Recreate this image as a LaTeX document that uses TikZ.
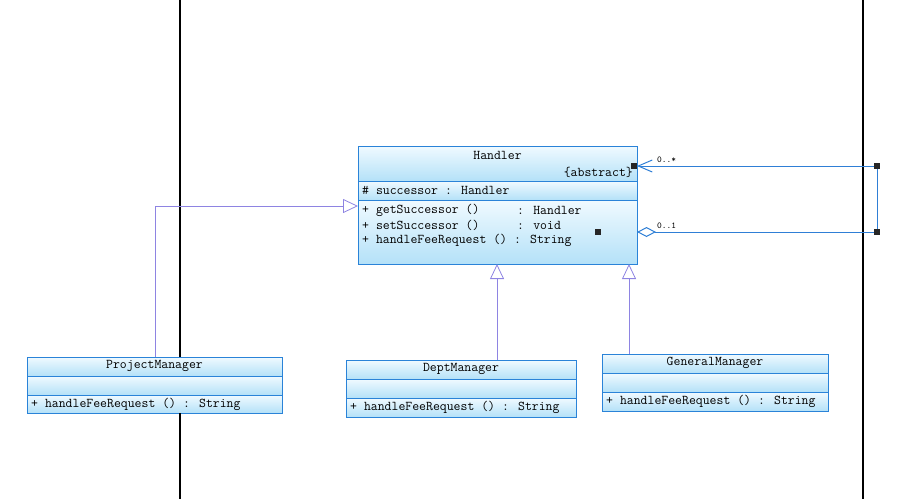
\documentclass[tikz,border=0pt]{standalone}
\usepackage{fontspec}
\usetikzlibrary{arrows.meta}
\definecolor{boxline}{HTML}{2A83D8}
\definecolor{boxtop}{HTML}{F0FAFF}
\definecolor{boxbot}{HTML}{B4E1F8}
\definecolor{genline}{HTML}{8E84E2}
\definecolor{assocline}{HTML}{2F7FD6}
\tikzset{
  comp/.style={draw=boxline, line width=1pt, top color=boxtop, bottom color=boxbot,
    inner sep=0pt, outer sep=0pt, anchor=north west},
  txt/.style={font=\ttfamily\fontsize{13.4}{14}\selectfont, inner sep=0pt, anchor=west},
  ctxt/.style={font=\ttfamily\fontsize{13.4}{14}\selectfont, inner sep=0pt},
  small/.style={font=\ttfamily\fontsize{9}{10}\selectfont, inner sep=0pt, anchor=west},
  gen/.style={draw=genline, line width=0.8pt,
    -{Triangle[open, length=15pt, width=14pt, fill=white]}},
  assoc/.style={draw=assocline, line width=1pt,
    {Straight Barb[length=14pt, width=12pt]}-{Diamond[open, length=19pt, width=10pt, fill=white]}},
  handle/.style={fill=black!85, draw=none, minimum size=6pt, inner sep=0pt},
  lifeline/.style={draw=black, line width=1.5pt}
}
\newcommand{\comp}[5]{\node[comp, minimum width=#4pt, minimum height=#5pt] (#1) at (#2,#3) {};}
\begin{document}
\begin{tikzpicture}[x=1pt,y=-1pt]
\useasboundingbox (0,0) rectangle (918,499);
% lifelines
\coordinate (l1t) at (180,0); \coordinate (l1b) at (180,499);
\coordinate (l2t) at (863,0); \coordinate (l2b) at (863,499);

% Handler
\comp{hname}{358}{146}{279}{35}
\comp{hattr}{358}{181}{279}{19}
\comp{hops}{358}{200}{279}{64}
% ProjectManager
\comp{pmname}{27}{357}{255}{19}
\comp{pmattr}{27}{376}{255}{19}
\comp{pmops}{27}{395}{255}{18}
% DeptManager
\comp{dmname}{346}{360}{230}{19}
\comp{dmattr}{346}{379}{230}{19}
\comp{dmops}{346}{398}{230}{19}
% GeneralManager
\comp{gmname}{602}{354}{226}{19}
\comp{gmattr}{602}{373}{226}{19}
\comp{gmops}{602}{392}{226}{19}

% lifelines (hidden behind ProjectManager box)
\draw[lifeline] (l1t) -- (pmname.north west -| l1t);
\draw[lifeline] (pmops.south west -| l1b) -- (l1b);
\draw[lifeline] (l2t) -- (l2b);

% generalizations
\draw[gen] ([xshift=128pt]pmname.north west) |- ([yshift=-6pt]hops.north west);
\draw[gen] ([xshift=151pt]dmname.north west) -- ([xshift=139pt]hops.south west);
\draw[gen] ([xshift=27pt]gmname.north west) -- ([xshift=271pt]hops.south west);

% self association
\coordinate (sa) at (877,166);
\coordinate (sb) at (877,232);
\draw[assoc] ([yshift=-20pt]hname.north east) -- (sa) -- (sb) -- ([yshift=-32pt]hops.north east);
\node[small] (m1) at (657,160) {0..*};
\node[small] (m2) at (657,226) {0..1};

% handles
\node[handle] (s1) at (sa) {};
\node[handle] (s2) at (sb) {};
\node[handle] (s3) at (634,166) {};
\node[handle] (s4) at (598,232) {};

% Handler texts
\node[ctxt] (ht) at (497.5,155) {Handler};
\node[ctxt, anchor=east] (hab) at (633,172) {\{abstract\}};
\node[txt] (ha1) at (362,190.5) {\# successor : Handler};
\node[txt] (ho1) at (362,210) {+ getSuccessor ()};
\node[txt] (ho1r) at (517,210) {: Handler};
\node[txt] (ho2) at (362,225) {+ setSuccessor ()};
\node[txt] (ho2r) at (517,225) {: void};
\node[txt] (ho3) at (362,240) {+ handleFeeRequest () : String};

% subclasses texts
\node[ctxt] (pmt) at (154.5,366) {ProjectManager};
\node[txt] (pmo) at (31,404) {+ handleFeeRequest () : String};
\node[ctxt] (dmt) at (461,369) {DeptManager};
\node[txt] (dmo) at (350,407) {+ handleFeeRequest () : String};
\node[ctxt] (gmt) at (715,363) {GeneralManager};
\node[txt] (gmo) at (606,401) {+ handleFeeRequest () : String};
\end{tikzpicture}
\end{document}
